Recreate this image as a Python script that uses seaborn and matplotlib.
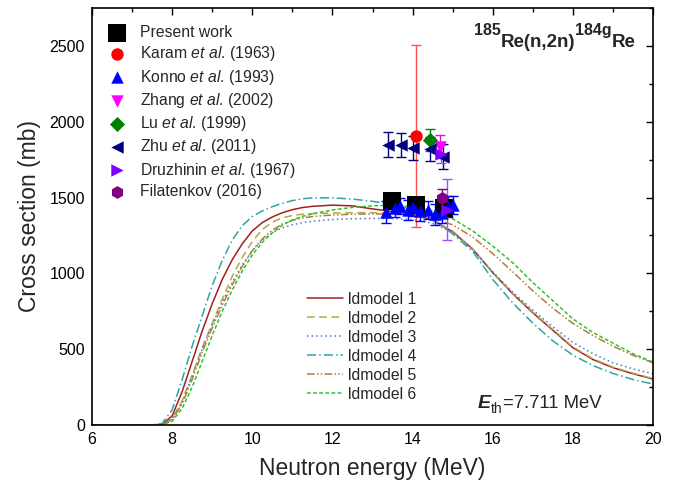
import numpy as np
import pandas as pd
import matplotlib
matplotlib.use("Agg")
import matplotlib.pyplot as plt
from matplotlib.ticker import MultipleLocator
import seaborn as sns

# ---------------- data ----------------
energy = [6.0, 7.5, 7.75, 8.0, 8.25, 8.5, 8.75, 9.0, 9.25, 9.5, 9.75, 10.0, 10.25, 10.5,
          10.75, 11.0, 11.25, 11.5, 12.0, 12.5, 13.0, 13.5, 14.0, 14.5, 15.0, 15.5, 16.0,
          16.5, 17.0, 17.5, 18.0, 18.5, 19.0, 19.5, 20.0]
ldmodel1 = [0, 0, 5, 60, 220, 420, 620, 800, 960, 1090, 1195, 1280, 1335, 1372,
            1400, 1420, 1434, 1442, 1450, 1445, 1425, 1408, 1390, 1350, 1275, 1160, 1005,
            865, 740, 625, 510, 432, 378, 338, 303]
ldmodel2 = [0, 0, 3, 40, 160, 330, 510, 670, 830, 980, 1105, 1210, 1290, 1338,
            1366, 1382, 1390, 1394, 1398, 1400, 1400, 1398, 1385, 1350, 1280, 1160, 1005,
            868, 745, 630, 515, 437, 382, 342, 306]
ldmodel3 = [0, 0, 3, 40, 150, 320, 500, 660, 810, 940, 1055, 1150, 1220, 1268,
            1300, 1320, 1334, 1344, 1355, 1360, 1362, 1362, 1355, 1330, 1270, 1160, 1010,
            875, 758, 648, 545, 470, 410, 370, 338]
ldmodel4 = [0, 0, 10, 100, 300, 520, 720, 920, 1085, 1220, 1315, 1375, 1412, 1440,
            1462, 1480, 1492, 1498, 1498, 1490, 1475, 1455, 1420, 1360, 1260, 1145, 960,
            805, 672, 555, 461, 392, 340, 300, 270]
ldmodel5 = [0, 0, 3, 35, 140, 300, 480, 640, 790, 925, 1045, 1150, 1228, 1285,
            1325, 1350, 1365, 1375, 1385, 1390, 1392, 1392, 1385, 1365, 1320, 1240, 1130,
            1010, 885, 770, 670, 590, 520, 460, 410]
ldmodel6 = [0, 0, 2, 25, 110, 250, 420, 590, 750, 890, 1015, 1122, 1205, 1268,
            1318, 1352, 1376, 1393, 1418, 1435, 1445, 1450, 1440, 1410, 1360, 1280, 1180,
            1070, 940, 820, 700, 610, 540, 470, 415]

present_E = [13.49, 14.09, 14.79]
present_xs = [1474, 1454, 1434]
present_err = [25, 25, 25]

karam_E = [14.09]
karam_xs = [1908]
karam_err = [600]

konno_E = [13.33, 13.56, 13.69, 13.89, 14.01, 14.18, 14.38, 14.56, 14.73, 14.88, 15.00]
konno_xs = [1405, 1430, 1445, 1420, 1440, 1410, 1420, 1390, 1400, 1440, 1450]
konno_err = [70, 60, 55, 65, 60, 65, 60, 70, 65, 70, 60]

zhang_E = [14.68]
zhang_xs = [1835]
zhang_err = [75]

lu_E = [14.43]
lu_xs = [1880]
lu_err = [75]

zhu_E = [13.39, 13.71, 14.01, 14.43, 14.76]
zhu_xs = [1849, 1845, 1825, 1822, 1770]
zhu_err = [80, 80, 80, 80, 80]

druzh_E = [14.70, 14.85]
druzh_xs = [1785, 1420]
druzh_err = [60, 200]

filat_E = [14.74]
filat_xs = [1495]
filat_err = [60]

model_labels = ["ldmodel 1", "ldmodel 2", "ldmodel 3", "ldmodel 4", "ldmodel 5", "ldmodel 6"]
x_ticks = [6, 8, 10, 12, 14, 16, 18, 20]
y_ticks = [0, 500, 1000, 1500, 2000, 2500]

# ---------------- style ----------------
sns.set_style("white")
plt.rcParams["font.family"] = ["Liberation Sans", "DejaVu Sans"]
plt.rcParams["mathtext.fontset"] = "custom"
plt.rcParams["mathtext.rm"] = "Liberation Sans"
plt.rcParams["mathtext.it"] = "Liberation Sans:italic"
plt.rcParams["mathtext.bf"] = "Liberation Sans:bold"

fig = plt.figure(figsize=(6.76, 4.88), dpi=100)
ax = fig.add_axes([92 / 676, 63 / 488, 561 / 676, 417 / 488])

# ---------------- model curves ----------------
curve_df = pd.DataFrame({"E": energy, "m1": ldmodel1, "m2": ldmodel2, "m3": ldmodel3,
                         "m4": ldmodel4, "m5": ldmodel5, "m6": ldmodel6})
styles = [
    ("m1", "#A31F1F", "-"),
    ("m2", "#B3A846", (0, (5, 3))),
    ("m3", "#4A78C8", (0, (1, 2))),
    ("m4", "#2AA6A8", (0, (6, 2, 1, 2))),
    ("m5", "#B87A3A", (0, (5, 1.5, 1, 1.5, 1, 1.5))),
    ("m6", "#2BC42B", (0, (2.5, 1.5))),
]
line_handles = []
for (col, color, ls), lab in zip(styles, model_labels):
    sns.lineplot(data=curve_df, x="E", y=col, ax=ax, color=color, linestyle=ls,
                 linewidth=1.1, label=lab, legend=False)
    line_handles.append(ax.lines[-1])

# ---------------- experimental points ----------------
datasets = [
    ("Present work", present_E, present_xs, present_err, "s", "black", "black", 185),
    ("Karam $\\it{et\\ al}$. (1963)", karam_E, karam_xs, karam_err, "o", "#FF0000", "#FF5050", 80),
    ("Konno $\\it{et\\ al}$. (1993)", konno_E, konno_xs, konno_err, "^", "#0000FF", "#0000FF", 80),
    ("Zhang $\\it{et\\ al}$. (2002)", zhang_E, zhang_xs, zhang_err, "v", "#FF00FF", "#FF00FF", 80),
    ("Lu $\\it{et\\ al}$. (1999)", lu_E, lu_xs, lu_err, "D", "#008000", "#008000", 60),
    ("Zhu $\\it{et\\ al}$. (2011)", zhu_E, zhu_xs, zhu_err, "<", "#000080", "#000080", 80),
    ("Druzhinin $\\it{et\\ al}$. (1967)", druzh_E, druzh_xs, druzh_err, ">", "#8000FF", "#A050FF", 80),
    ("Filatenkov (2016)", filat_E, filat_xs, filat_err, "h", "#800080", "#800080", 85),
]
point_handles = []
for lab, ex, ey, ee, mk, col, ecol, size in datasets:
    ax.errorbar(ex, ey, yerr=ee, fmt="none", ecolor=ecol, elinewidth=1.0,
                capsize=3.5, capthick=1.0, zorder=3)
    sns.scatterplot(x=ex, y=ey, ax=ax, marker=mk, color=col, s=size,
                    linewidth=0, label=lab, legend=False, zorder=4)
    point_handles.append(ax.collections[-1])

# ---------------- axes ----------------
ax.set_xlim(6, 20)
ax.set_ylim(0, 2750)
ax.set_xticks(x_ticks)
ax.set_yticks(y_ticks)
ax.xaxis.set_minor_locator(MultipleLocator(1))
ax.yaxis.set_minor_locator(MultipleLocator(250))
ax.tick_params(which="both", direction="in", top=True, right=True, width=1.0,
               labelsize=11.5, colors="black")
ax.tick_params(which="major", length=5, pad=5)
ax.tick_params(which="minor", length=3)
for sp in ax.spines.values():
    sp.set_linewidth(1.2)
    sp.set_color("black")
ax.set_xlabel("Neutron energy (MeV)", fontsize=16.5, labelpad=7)
ax.set_ylabel("Cross section (mb)", fontsize=16.5, labelpad=6)

# ---------------- legends ----------------
leg1 = ax.legend(point_handles, [d[0] for d in datasets], loc="upper left",
                 bbox_to_anchor=(0.030, 0.959), frameon=False, fontsize=11.3,
                 borderpad=0, borderaxespad=0, handlelength=1.0, handletextpad=0.97,
                 labelspacing=0.27, markerscale=1.0)
ax.add_artist(leg1)
leg2 = ax.legend(line_handles, model_labels, loc="upper left",
                 bbox_to_anchor=(0.383, 0.319), frameon=False, fontsize=11.3,
                 borderpad=0, borderaxespad=0, handlelength=2.3, handletextpad=0.32,
                 labelspacing=0.25)

# ---------------- annotations ----------------
fs_main, fs_sup = 13.5, 11.5
y_main, y_sup = 441, 453
t5 = ax.annotate("Re", xy=(636, y_main), xycoords="figure pixels", ha="right",
                 va="baseline", fontsize=fs_main, fontweight="bold")
t4 = ax.annotate("184g", xy=(0, y_sup), xycoords=(t5, "figure pixels"), ha="right",
                 va="baseline", fontsize=fs_sup, fontweight="bold")
t3 = ax.annotate("Re(n,2n)", xy=(0, y_main), xycoords=(t4, "figure pixels"), ha="right",
                 va="baseline", fontsize=fs_main, fontweight="bold")
t2 = ax.annotate("185", xy=(0, y_sup), xycoords=(t3, "figure pixels"), ha="right",
                 va="baseline", fontsize=fs_sup, fontweight="bold")

te = ax.annotate("E", xy=(478, 80), xycoords="figure pixels", ha="left",
                 va="baseline", fontsize=14, fontweight="bold", fontstyle="italic")
tth = ax.annotate("th", xy=(1, 75), xycoords=(te, "figure pixels"), ha="left",
                  va="baseline", fontsize=10)
trest = ax.annotate("=7.711 MeV", xy=(1, 80), xycoords=(tth, "figure pixels"), ha="left",
                    va="baseline", fontsize=13.3)

fig.savefig("out.png", dpi=100)
